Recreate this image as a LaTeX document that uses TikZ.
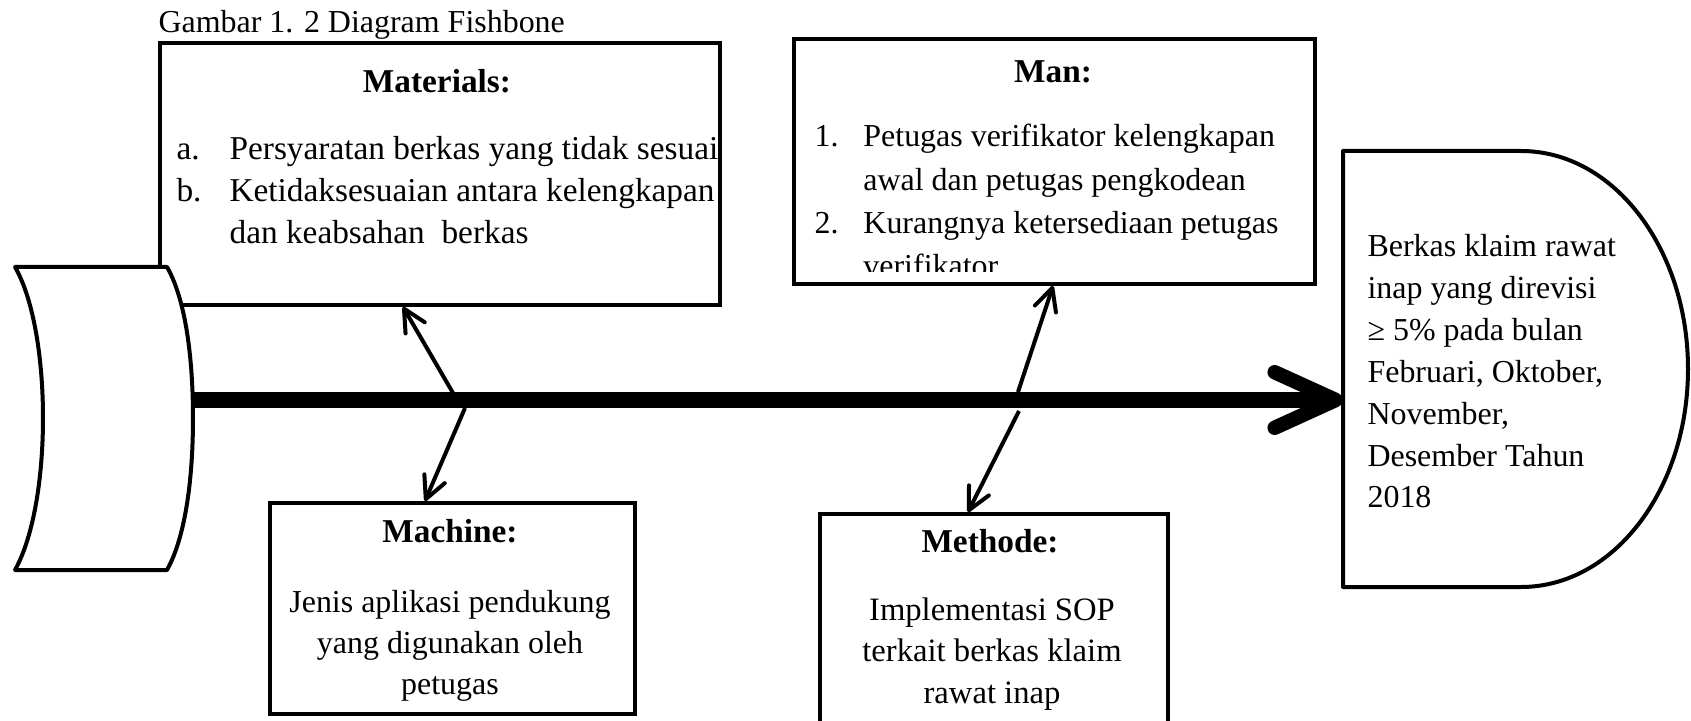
\documentclass[tikz,border=0pt]{standalone}
\usepackage{fontspec}
\setmainfont{Liberation Serif}
\usetikzlibrary{arrows.meta,calc}

\tikzset{
  catbox/.style={draw, line width=1.44pt, fill=white, inner sep=0pt, anchor=north west},
  cattitle/.style={font=\fontsize{12}{15}\selectfont\bfseries, inner sep=0pt, anchor=base},
  cattext/.style={font=\fontsize{12}{15}\selectfont, inner sep=0pt},
  bone/.style={line width=1.44pt, -{Straight Barb[length=8pt,width=8pt,round]}},
  spine/.style={line width=5.8pt, -{Straight Barb[length=22pt,width=20pt,line width=5.2pt,round]}},
}

\begin{document}
\begin{tikzpicture}[x=0.36pt,y=-0.36pt]
  \useasboundingbox (0,0) rectangle (1691,721);

  \node[anchor=base west, inner sep=0pt, font=\fontsize{11.5}{14}\selectfont] (caption) at (158,33) {Gambar 1. 2 Diagram Fishbone};

  \node[catbox, minimum width=201.6pt, minimum height=94.3pt] (materials) at (158,41) {};
  \node[cattitle] (materialstitle) at (437,93) {Materials:};
  \node[cattext, anchor=base west] (materialstext) at (176,160) {\begin{tabular}[t]{@{}p{19.1pt}@{}l@{}}
    a. & Persyaratan berkas yang tidak sesuai\\
    b. & Ketidaksesuaian antara kelengkapan\\
       & dan keabsahan\ \ berkas
  \end{tabular}};

  \node[catbox, minimum width=187.6pt, minimum height=88.2pt] (man) at (792,37) {};
  \node[cattitle] (mantitle) at (1053,83) {Man:};
  \begin{scope}
    \clip (man.north west) rectangle ($(man.south east)+(0,-14)$);
    \node[cattext, anchor=base west, font=\fontsize{11.5}{15.5}\selectfont] (mantext) at (814,147) {\begin{tabular}[t]{@{}p{17.6pt}@{}l@{}}
      1. & Petugas verifikator kelengkapan\\
         & awal dan petugas pengkodean\\
      2. & Kurangnya ketersediaan petugas\\
         & verifikator
    \end{tabular}};
  \end{scope}

  \node[catbox, minimum width=131.4pt, minimum height=76pt] (machine) at (268,501) {};
  \node[cattitle] (machinetitle) at (450,542) {Machine:};
  \node[cattext, anchor=base, font=\fontsize{11.5}{14.8}\selectfont] (machinetext) at (450,612) {\begin{tabular}[t]{@{}c@{}}
    Jenis aplikasi pendukung\\ yang digunakan oleh\\ petugas
  \end{tabular}};

  \node[catbox, minimum width=125.3pt, minimum height=93.6pt] (methode) at (818,512) {};
  \node[cattitle] (methodetitle) at (990,552) {Methode:};
  \node[cattext, anchor=base, font=\fontsize{11.75}{15}\selectfont] (methodetext) at (992,620) {\begin{tabular}[t]{@{}c@{}}
    Implementasi SOP\\ terkait berkas klaim\\ rawat inap
  \end{tabular}};

  \draw[line width=1.44pt, line join=round, fill=white] (15,267) -- (167,267)
    .. controls (186,300) and (193,360) .. (193,418)
    .. controls (193,476) and (186,536) .. (167,570) -- (15,570)
    .. controls (34,536) and (43,476) .. (43,418)
    .. controls (43,360) and (34,300) .. (15,267) -- cycle;
  \coordinate (tailend) at (193,400);

  \draw[line width=1.44pt, line join=round] (1343,151) -- (1521,151)
    .. controls (1614,151) and (1688,249) .. (1688,369)
    .. controls (1688,489) and (1614,587) .. (1521,587) -- (1343,587) -- cycle;
  \coordinate (effectin) at (1343,400);
  \node[cattext, anchor=base west, font=\fontsize{11.5}{15.05}\selectfont] (effecttext) at (1367,257) {\begin{tabular}[t]{@{}l@{}}
    Berkas klaim rawat\\ inap yang direvisi\\ ≥ 5\% pada bulan\\ Februari, Oktober,\\
    November,\\ Desember Tahun\\ 2018
  \end{tabular}};

  \draw[spine] (tailend) -- (effectin);

  \coordinate (materialsroot) at (453,393);
  \coordinate (machineroot) at (465,408);
  \coordinate (manroot) at (1018,392);
  \coordinate (methoderoot) at (1019,411);
  \draw[bone] (materialsroot) -- (materials.south -| 403,0);
  \draw[bone] (machineroot) -- (machine.north -| 425,0);
  \draw[bone] (manroot) -- (man.south -| 1053,0);
  \draw[bone] (methoderoot) -- (methode.north -| 968,0);
\end{tikzpicture}
\end{document}
